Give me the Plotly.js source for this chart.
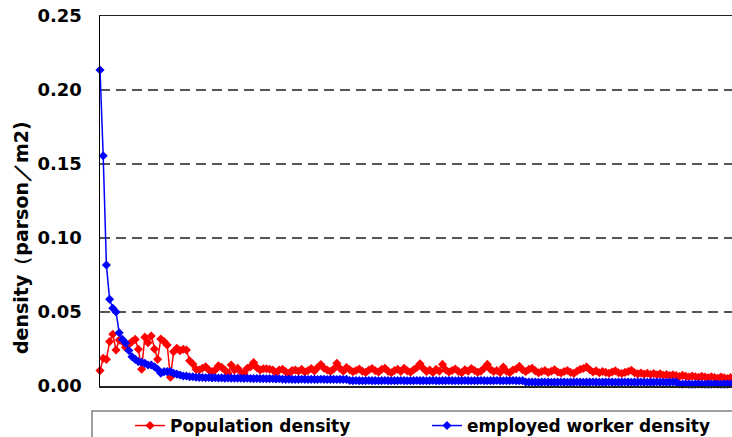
<!DOCTYPE html>
<html>
<head>
<meta charset="utf-8">
<script src="https://cdn.plot.ly/plotly-3.0.1.min.js"></script>
<style>
html,body{margin:0;padding:0;overflow:hidden;background:#fff;width:732px;height:437px;}
#chart{width:756px;height:437px;}
</style>
</head>
<body>
<div id="chart"></div>
<script>
// Series names
const seriesNames = ["Population density", "employed worker density"];
const yTitle = "density（parson／m2)";

// Population density (red), one value per zone
const popDensity = [
.0104,.0187,.0180,.0300,.0350,.0243,.0310,.0300,.0260,.0280,
.0300,.0315,.0248,.0113,.0330,.0293,.0338,.0250,.0180,.0318,
.0300,.0277,.0059,.0232,.0255,.0239,.0248,.0243,.0171,.0149,
.0113,.0108,.0120,.0130,.0108,.0097,.0108,.0137,.0126,.0108,
.0086,.0142,.0108,.0120,.0097,.0086,.0120,.0130,.0158,.0124,
.0108,.0117,.0117,.0113,.0108,.0090,.0108,.0113,.0097,.0086,
.0104,
.0108,.0100,.0112,.0095,.0105,.0118,.0102,.0125,.0145,.0120,
.0108,.0098,.0115,.0153,.0118,.0100,.0125,.0110,.0096,.0105,
.0115,.0100,.0092,.0108,.0118,.0103,.0095,.0112,.0120,.0100,
.0090,.0105,.0113,.0098,.0120,.0102,.0094,.0110,.0125,
.0150,.0118,.0098,.0108,.0092,.0112,.0100,.0146,.0110,.0095,
.0105,.0115,.0098,.0090,.0110,.0100,.0118,.0105,.0093,.0100,
.0120,.0146,.0112,.0098,.0105,.0092,.0128,.0100,.0090,.0108,
.0115,.0133,.0110,.0098,.0112,.0120,.0102,.0090,.0098,.0105,
.0092,.0100,.0110,.0095,.0088,.0098,.0105,.0092,.0085,.0100,
.0112,.0118,.0128,.0110,.0095,.0102,.0090,.0098,.0092,.0086,
.0095,.0102,.0090,.0084,.0092,.0098,.0106,.0090,.0082,.0088,
.0080,.0086,.0078,.0084,.0076,.0082,.0072,.0078,.0070,.0075,
.0070,.0064,.0072,.0066,.0060,.0068,.0062,.0058,.0065,.0060,
.0055,.0062,.0057,.0052,.0060,.0055,.0050,.0057,.0052,.0048,
.0054,.0050,.0047,.0052,.0048
];

// Employed worker density (blue)
const workerDensity = [
.2135,.1556,.0818,.0586,.0525,.0500,.0360,.0315,.0290,.0240,
.0198,.0180,.0165,.0160,.0153,.0142,.0142,.0130,.0113,.0086,
.0097,.0097,.0097,.0086,.0080,.0074,.0068,.0068,.0063,.0063,
.0059,
.0058,.0057,.0056,.0057,.0055,.0056,.0054,.0055,.0053,.0054,
.0053,.0052,.0053,.0052,.0051,.0052,.0051,.0050,.0051,.0050,
.0050,.0049,.0050,.0049,.0048,.0049,
.0046,.0045,.0046,.0045,.0044,.0045,.0046,.0045,.0044,.0045,
.0045,.0044,.0046,.0045,.0044,.0045,.0045,.0044,.0045,.0044,
.0045,
.0037,.0036,.0037,.0036,.0035,.0036,.0037,.0036,.0036,.0035,
.0036,.0037,.0036,.0035,.0036,.0036,.0037,.0036,.0035,.0036,
.0036,.0037,.0036,.0036,.0035,.0036,.0037,.0036,.0035,.0036,
.0036,.0037,.0036,.0035,.0036,.0036,.0037,.0036,.0035,.0036,
.0036,.0037,.0036,.0035,.0036,.0036,.0037,.0036,.0035,.0036,
.0036,.0037,.0036,.0035,.0036,
.0027,.0026,.0027,.0026,.0025,.0026,.0027,.0026,.0025,.0026,
.0026,.0027,.0026,.0025,.0026,.0026,.0027,.0026,.0025,.0026,
.0026,.0027,.0026,.0025,.0026,.0026,.0027,.0026,.0025,.0026,
.0026,.0027,.0026,.0025,.0026,.0026,.0027,.0026,.0025,.0026,
.0026,.0027,.0026,.0025,.0026,.0026,.0027,.0026,
.0014,.0013,.0014,.0013,.0012,.0013,.0014,.0013,.0012,.0013,
.0013,.0014,.0013,.0012,.0013,.0013,.0014,.0013,.0012,.0013,
.0013,.0014,.0013,.0012
];

const yTicks = [0, 0.05, 0.10, 0.15, 0.20, 0.25];

const W = 756, H = 437, ML = 100, MR = 3, MT = 16, MB = 51;
const PW = W - ML - MR, PH = H - MT - MB;
const px = v => (v - ML) / PW;
const py = v => (H - MB - v) / PH;

const font = "DejaVu Sans, Arial, sans-serif";

const traces = [
  {
    y: popDensity, type: "scatter", mode: "lines+markers", name: seriesNames[0],
    line: {color: "#ff0000", width: 1.5},
    marker: {symbol: "diamond", size: 7, color: "#ff0000"},
    cliponaxis: false
  },
  {
    y: workerDensity, type: "scatter", mode: "lines+markers", name: seriesNames[1],
    line: {color: "#0000ff", width: 1.5},
    marker: {symbol: "diamond", size: 7, color: "#0000ff"},
    cliponaxis: false
  }
];

const layout = {
  width: W, height: H,
  margin: {l: ML, r: MR, t: MT, b: MB, pad: 0, autoexpand: false},
  paper_bgcolor: "#fff", plot_bgcolor: "#fff",
  showlegend: true,
  xaxis: {
    range: [0, popDensity.length - 1], automargin: false,
    showline: true, mirror: true, linecolor: "#222", linewidth: 1.5,
    showgrid: false, zeroline: false, showticklabels: false, ticks: ""
  },
  yaxis: {
    range: [0, 0.25], tickvals: yTicks, tickformat: ".2f", automargin: false,
    showline: true, mirror: true, linecolor: "#000", linewidth: 1.5,
    showgrid: true, gridcolor: "#555", gridwidth: 1.2, griddash: "10px,6px",
    zeroline: false, ticks: "", ticklabelstandoff: 13,
    tickfont: {family: font, size: 18, color: "#000", weight: "bold"}
  },
  legend: {
    orientation: "h", x: px(130), xanchor: "left", y: py(408), yanchor: "top",
    bgcolor: "rgba(0,0,0,0)", borderwidth: 0, entrywidth: 252, entrywidthmode: "pixels",
    font: {family: font, size: 17, color: "#000", weight: "bold"}
  },
  shapes: [
    {type: "rect", xref: "paper", yref: "paper",
     x0: px(92), x1: px(900), y0: py(411), y1: py(500),
     line: {color: "#808080", width: 1.5}, fillcolor: "rgba(0,0,0,0)"}
  ],
  annotations: [
    {text: yTitle, xref: "paper", yref: "paper", x: px(20.5), y: py(237.5),
     xanchor: "center", yanchor: "middle", textangle: -90, showarrow: false,
     font: {family: font, size: 19, color: "#000", weight: "bold"}}
  ]
};

Plotly.newPlot("chart", traces, layout, {staticPlot: true, displayModeBar: false});
</script>
</body>
</html>
